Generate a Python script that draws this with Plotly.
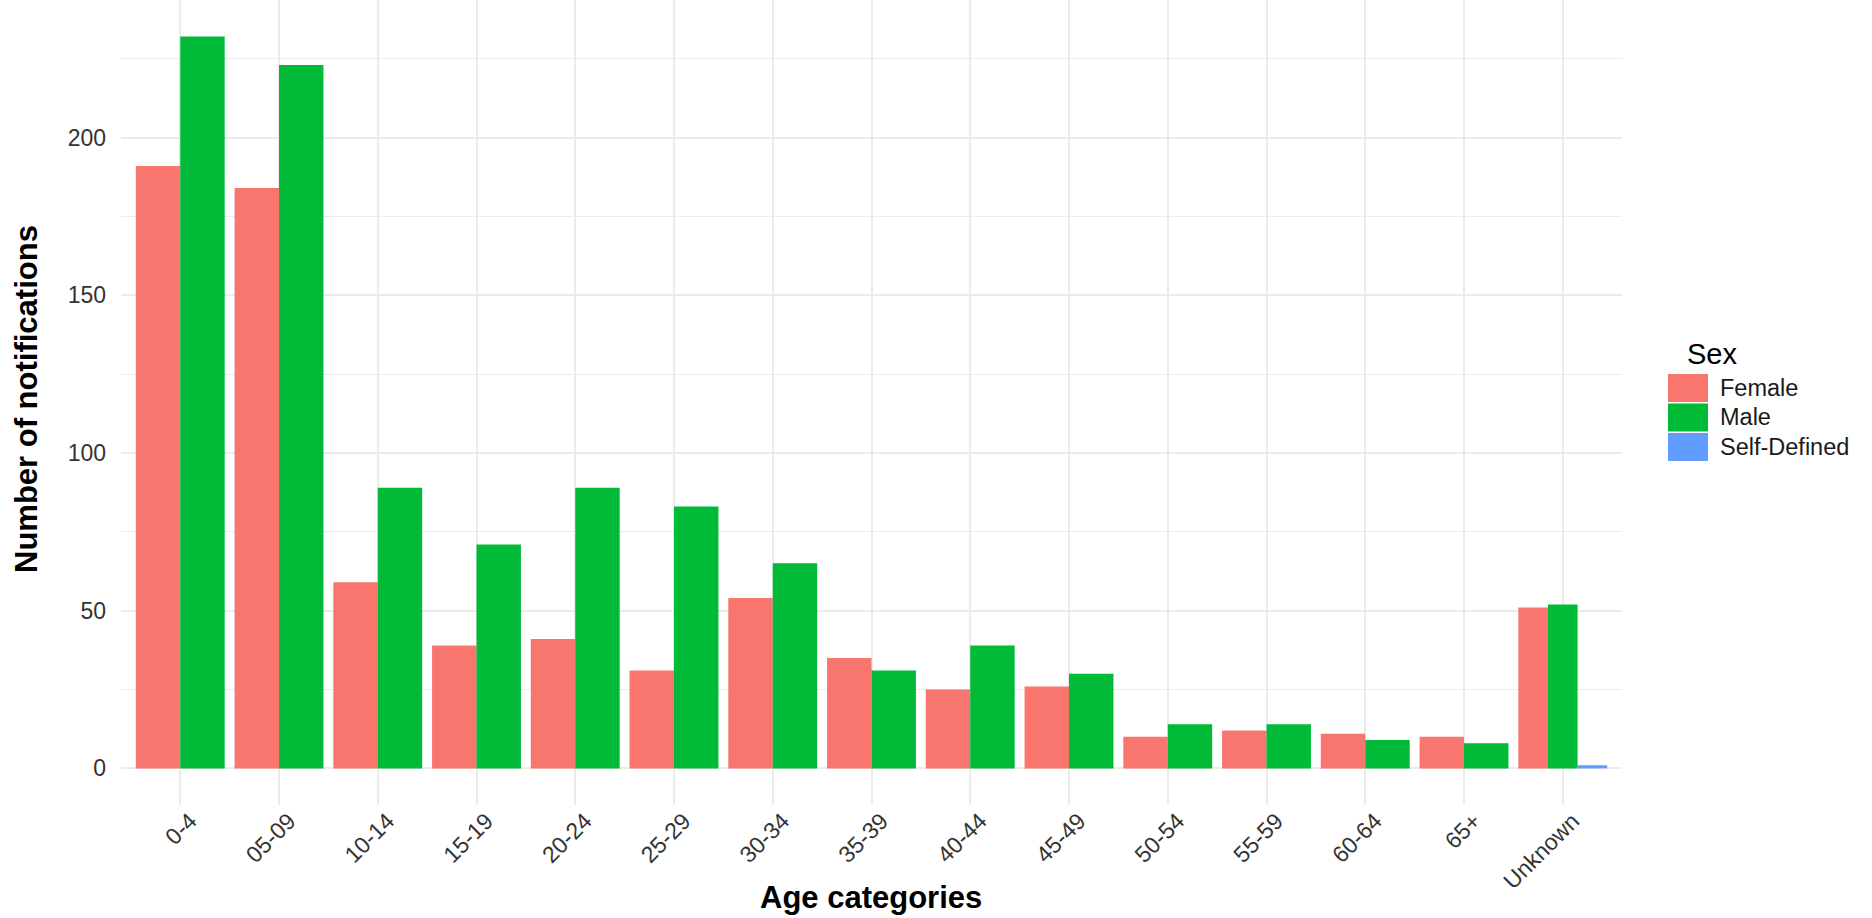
import plotly.graph_objects as go

# ---- data ----
age_categories = ["0-4", "05-09", "10-14", "15-19", "20-24", "25-29", "30-34",
                  "35-39", "40-44", "45-49", "50-54", "55-59", "60-64", "65+", "Unknown"]
female = [191, 184, 59, 39, 41, 31, 54, 35, 25, 26, 10, 12, 11, 10, 51]
male = [232, 223, 89, 71, 89, 83, 65, 31, 39, 30, 14, 14, 9, 8, 52]
self_defined = [None] * 14 + [1]

series_names = ["Female", "Male", "Self-Defined"]
series_values = [female, male, self_defined]
series_colors = ["#F8766D", "#00BA38", "#619CFF"]
x_title = "Age categories"
y_title = "Number of notifications"
legend_title = "Sex"

FONT = "Liberation Sans, Arial, sans-serif"
W, H = 1872, 918
ML, MR, MT, MB = 121, 250, 0, 113

# ggplot-like dodge: each category splits 0.9 among the series present
present = [[s for s in range(len(series_values)) if series_values[s][i] is not None]
           for i in range(len(age_categories))]

fig = go.Figure()
for s, (name, vals, col) in enumerate(zip(series_names, series_values, series_colors)):
    xs, ys, offs, wids = [], [], [], []
    for i, cat in enumerate(age_categories):
        if vals[i] is None:
            continue
        n = len(present[i])
        k = present[i].index(s)
        w = 0.9 / n
        xs.append(cat)
        ys.append(vals[i])
        offs.append(-0.45 + k * w)
        wids.append(w)
    fig.add_trace(go.Bar(x=xs, y=ys, offset=offs, width=wids, name=name,
                         marker=dict(color=col, line=dict(width=0)),
                         showlegend=False))

ymax = max(max(female), max(male))
fig.update_layout(
    width=W, height=H,
    margin=dict(l=ML, r=MR, t=MT, b=MB, pad=0),
    paper_bgcolor="white", plot_bgcolor="white",
    barmode="overlay",
    font=dict(family=FONT, color="#1a1a1a"),
)
fig.update_xaxes(
    type="category", categoryorder="array", categoryarray=age_categories,
    range=[-0.6, len(age_categories) - 0.4],
    showgrid=True, gridcolor="#EBEBEB", gridwidth=2,
    zeroline=False, showline=False, ticks="",
    tickangle=-45, tickfont=dict(size=23, color="#333333", family=FONT),
    ticklabelshift=10, ticklabelstandoff=-3,
    automargin=False,
)
fig.update_yaxes(
    range=[-0.05 * ymax, ymax * 1.05],
    tickvals=[0, 50, 100, 150, 200],
    showgrid=True, gridcolor="#EBEBEB", gridwidth=2,
    minor=dict(tickvals=[25, 75, 125, 175, 225], showgrid=True, gridcolor="#EBEBEB", gridwidth=1.2),
    zeroline=False, showline=False, ticks="",
    ticklabelstandoff=14,
    tickfont=dict(size=23, color="#333333", family=FONT),
    automargin=False,
)

# ---- pixel -> paper helpers ----
pw, ph = W - ML - MR, H - MT - MB
def px_x(x):
    return (x - ML) / pw
def px_y(y):
    return (H - MB - y) / ph

# axis titles
fig.add_annotation(x=px_x(871), y=px_y(897), xref="paper", yref="paper",
                   text=f"<b>{x_title}</b>", showarrow=False,
                   xanchor="center", yanchor="middle",
                   font=dict(size=31, color="#000000", family=FONT))
fig.add_annotation(x=px_x(26), y=px_y(399), xref="paper", yref="paper",
                   text=f"<b>{y_title}</b>", showarrow=False, textangle=-90,
                   xanchor="center", yanchor="middle",
                   font=dict(size=31, color="#000000", family=FONT))

# legend (ggplot style)
fig.add_annotation(x=px_x(1685), y=px_y(354), xref="paper", yref="paper",
                   text=legend_title, showarrow=False, xanchor="left", yanchor="middle",
                   font=dict(size=29, color="#000000", family=FONT))
key_tops = [374, 403.5, 433]
for name, col, top in zip(series_names, series_colors, key_tops):
    fig.add_shape(type="rect", xref="paper", yref="paper",
                  x0=px_x(1668), x1=px_x(1708), y0=px_y(top), y1=px_y(top + 28),
                  fillcolor=col, line=dict(width=0))
    fig.add_annotation(x=px_x(1718), y=px_y(top + 14), xref="paper", yref="paper",
                       text=name, showarrow=False, xanchor="left", yanchor="middle",
                       font=dict(size=23.5, color="#1a1a1a", family=FONT))

# remove the default page margin so the figure sits at the window's top-left corner
fig.write_html("out.html", config={"displayModeBar": False},
               post_script="document.body.style.margin='0';document.body.style.overflow='hidden';")
